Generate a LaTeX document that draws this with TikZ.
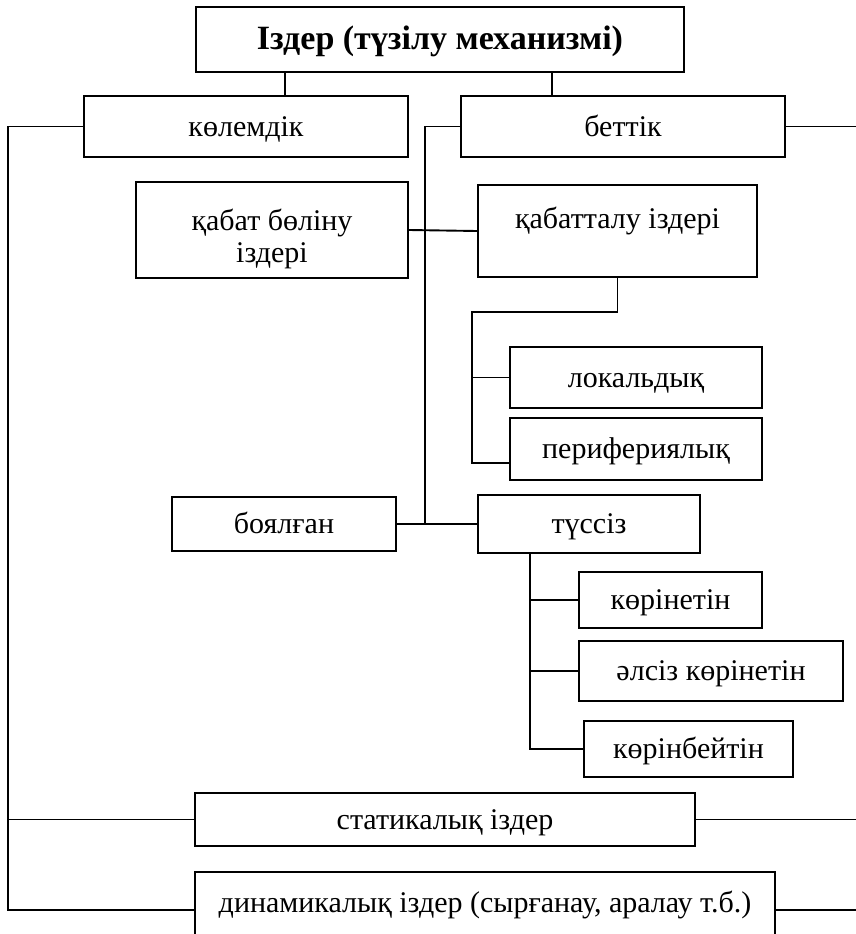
\documentclass[tikz,border=0pt]{standalone}
\usepackage{fontspec}
\setmainfont{Liberation Serif}

\tikzset{
    tbox/.style={draw, line width=2pt, inner sep=0pt, text height=19pt, text depth=0pt,
                 font=\fontsize{30}{34}\selectfont},
    tline/.style={line width=1.9pt}
}

\begin{document}
\begin{tikzpicture}[x=1pt,y=-1pt]
    \useasboundingbox (0,0) rectangle (856,934);

    \node[tbox, minimum width=488pt, minimum height=65pt, text height=20pt,
          font=\fontsize{34}{38}\selectfont\bfseries]
          (top) at (440,39.5) {Іздер (түзілу механизмі)};

    \node[tbox, minimum width=324pt, minimum height=61pt] (kol) at (246,126.5) {көлемдік};
    \node[tbox, minimum width=324pt, minimum height=61pt] (bet) at (623,126.5) {беттік};

    \node[tbox, minimum width=272pt, minimum height=96pt, text height=64pt]
          (kb) at (272,230) {\shortstack{қабат бөліну\\[2pt]іздері}};
    \node[tbox, minimum width=279pt, anchor=north, text height=43pt, text depth=49pt]
          (kt) at (617.5,184) {қабатталу іздері};

    \node[tbox, minimum width=252pt, minimum height=61pt] (lok) at (636,377.5) {локальдық};
    \node[tbox, minimum width=252pt, minimum height=62pt] (per) at (636,449) {перифериялық};

    \node[tbox, minimum width=224pt, minimum height=54pt] (boy) at (284,524) {боялған};
    \node[tbox, minimum width=222pt, minimum height=58pt] (tus) at (589,524) {түссіз};

    \node[tbox, minimum width=183pt, minimum height=56pt] (kor) at (670.5,600) {көрінетін};
    \node[tbox, minimum width=264pt, minimum height=60pt] (als) at (711,671) {әлсіз көрінетін};
    \node[tbox, minimum width=209pt, minimum height=56pt] (korb) at (688.5,749) {көрінбейтін};

    \node[tbox, minimum width=500pt, minimum height=53pt] (stat) at (445,819.5) {статикалық іздер};
    \node[tbox, minimum width=580pt, anchor=north, text height=40pt, text depth=60pt]
          (dyn) at (485,871) {динамикалық іздер (сырғанау, аралау т.б.)};

    \coordinate (a1) at (285,0);
    \coordinate (a2) at (552,0);
    \coordinate (lv) at (8,0);
    \coordinate (rv) at (856,0);
    \coordinate (mv) at (425,0);
    \coordinate (kv) at (472,312);
    \coordinate (tv) at (530,0);

    \draw[tline] (top.south -| a1) -- (kol.north -| a1);
    \draw[tline] (top.south -| a2) -- (bet.north -| a2);

    \draw[tline] (kol.west) -| (lv |- dyn.mid west) -- (dyn.mid west);
    \draw[tline] (lv |- stat.west) -- (stat.west);

    \draw[tline] (bet.east) -- (rv |- bet.east);
    \draw[tline] (stat.east) -- (rv |- stat.east);
    \draw[tline] (dyn.mid east) -- (rv |- dyn.mid east);

    \draw[tline] (bet.west) -| (mv |- boy.east);
    \draw[tline] (boy.east) -- (tus.west);
    \draw[tline] (kb.east) -- (kt.west);

    \draw[tline] (kt.south) |- (kv) |- ([yshift=-14pt]per.west);
    \draw[tline] (kv |- lok.west) -- (lok.west);

    \draw[tline] (tus.south -| tv) |- (korb.west);
    \draw[tline] (tv |- kor.west) -- (kor.west);
    \draw[tline] (tv |- als.west) -- (als.west);
\end{tikzpicture}
\end{document}
